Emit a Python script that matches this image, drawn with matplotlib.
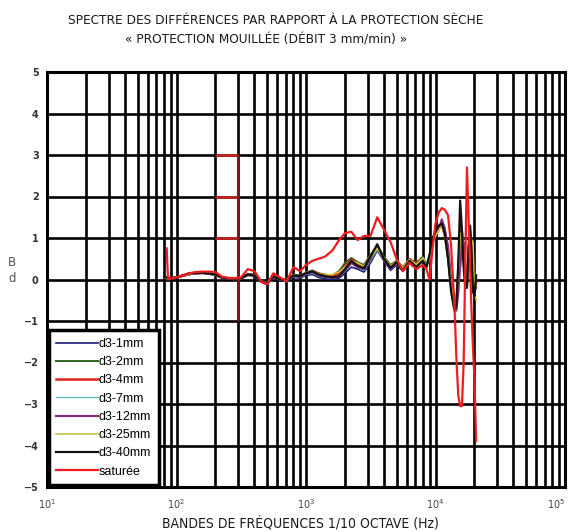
import matplotlib
matplotlib.use("Agg")
from matplotlib import pyplot as plt
from matplotlib.ticker import LogLocator, NullFormatter, FixedLocator

# Bandes de fréquences (Hz)
freqs = [84, 86, 90, 100, 112, 125, 140, 160, 180, 200, 224, 250, 280, 315, 355,
         400, 450, 500, 560, 630, 710, 800, 900, 1000, 1120, 1250, 1400, 1600,
         1800, 2000, 2240, 2500, 2800, 3150, 3550, 4000, 4500, 5000, 5600, 6300,
         7100, 8000, 8500, 9000, 9500, 10000, 10600, 11200, 11800, 12500, 13200,
         14000, 14500, 15000, 15500, 16000, 16500, 17000, 17500, 18000, 18500,
         19000, 19500, 20000, 20600]

# Différences (dB)
d3_1mm = [0.03, 0.02, 0.03, 0.04, 0.08, 0.12, 0.14, 0.15, 0.13, 0.10, 0.04, 0.02, 0.0, 0.02, 0.10,
          0.08, -0.06, -0.12, 0.05, -0.02, -0.04, 0.05, 0.03, 0.10, 0.12, 0.05, 0.02, 0.0,
          0.03, 0.15, 0.30, 0.25, 0.18, 0.40, 0.70, 0.45, 0.22, 0.35, 0.20, 0.50,
          0.35, 0.50, 0.35, 0.50, 0.90, 1.10, 1.25, 1.40, 1.25, 0.70, -0.10,
          -0.65, -0.70, -0.10, 0.90, 1.10, 0.60, 0.0, -0.10, 0.50, 1.10,
          0.70, 0.0, -0.30, -0.20]
d3_2mm = [0.04, 0.03, 0.04, 0.06, 0.10, 0.14, 0.16, 0.17, 0.15, 0.12, 0.06, 0.03, 0.02, 0.04, 0.13,
          0.12, -0.03, -0.08, 0.10, 0.02, 0.0, 0.12, 0.10, 0.17, 0.22, 0.15, 0.12, 0.10,
          0.20, 0.40, 0.52, 0.42, 0.35, 0.60, 0.80, 0.55, 0.35, 0.45, 0.30, 0.50,
          0.40, 0.55, 0.35, 0.55, 0.95, 1.10, 1.25, 1.30, 1.05, 0.50, -0.20,
          -0.70, -0.55, 0.30, 1.30, 1.20, 0.40, -0.10, -0.15, 0.70, 1.20,
          0.80, 0.10, -0.30, -0.10]
d3_4mm = [0.04, 0.03, 0.04, 0.05, 0.09, 0.13, 0.15, 0.16, 0.14, 0.11, 0.05, 0.03, 0.01, 0.03, 0.12,
          0.11, -0.04, -0.10, 0.08, 0.01, -0.01, 0.10, 0.07, 0.15, 0.20, 0.14, 0.10, 0.08,
          0.15, 0.32, 0.48, 0.38, 0.30, 0.55, 0.78, 0.50, 0.30, 0.40, 0.25, 0.48,
          0.38, 0.50, 0.32, 0.52, 0.92, 1.12, 1.28, 1.32, 1.10, 0.55, -0.15,
          -0.68, -0.60, 0.10, 1.10, 1.15, 0.50, -0.05, -0.10, 0.60, 1.15,
          0.75, 0.05, -0.25, -0.05]
d3_7mm = [0.03, 0.02, 0.03, 0.05, 0.09, 0.13, 0.15, 0.15, 0.13, 0.10, 0.05, 0.02, 0.01, 0.02, 0.11,
          0.09, -0.05, -0.11, 0.06, -0.01, -0.03, 0.07, 0.05, 0.12, 0.15, 0.08, 0.05, 0.03,
          0.06, 0.20, 0.38, 0.30, 0.22, 0.45, 0.72, 0.48, 0.25, 0.38, 0.22, 0.48,
          0.34, 0.48, 0.32, 0.50, 0.90, 1.08, 1.22, 1.35, 1.20, 0.65, -0.05,
          -0.60, -0.65, -0.05, 1.00, 1.05, 0.55, 0.0, -0.05, 0.55, 1.05,
          0.70, 0.05, -0.20, -0.15]
d3_12mm = [0.03, 0.02, 0.03, 0.05, 0.09, 0.13, 0.15, 0.16, 0.14, 0.11, 0.05, 0.03, 0.01, 0.03, 0.11,
           0.10, -0.05, -0.10, 0.07, 0.0, -0.02, 0.09, 0.06, 0.13, 0.18, 0.10, 0.06, 0.04,
           0.07, 0.22, 0.40, 0.30, 0.25, 0.50, 0.78, 0.48, 0.26, 0.40, 0.22, 0.46,
           0.32, 0.48, 0.30, 0.55, 0.95, 1.05, 1.20, 1.45, 1.20, 0.80, 0.0,
           -0.60, -0.75, -0.30, 0.30, 0.80, 0.90, 0.30, 0.0, 0.40, 1.00,
           0.50, -0.20, -0.10, 0.0]
d3_25mm = [0.03, 0.02, 0.03, 0.05, 0.09, 0.13, 0.16, 0.16, 0.14, 0.11, 0.05, 0.03, 0.02, 0.03, 0.12,
           0.11, -0.04, -0.09, 0.09, 0.01, -0.01, 0.11, 0.08, 0.16, 0.21, 0.14, 0.11, 0.12,
           0.18, 0.30, 0.45, 0.40, 0.32, 0.52, 0.75, 0.52, 0.32, 0.44, 0.28, 0.48,
           0.36, 0.52, 0.34, 0.52, 0.90, 1.05, 1.20, 1.28, 1.05, 0.55, -0.10,
           -0.65, -0.50, 0.20, 1.10, 1.15, 0.50, 0.0, -0.05, 0.60, 1.10,
           0.95, 0.90, -0.30, -0.50]
d3_40mm = [0.05, 0.02, 0.03, 0.05, 0.10, 0.15, 0.16, 0.16, 0.14, 0.12, 0.05, 0.03, 0.02, 0.03, 0.12,
           0.10, -0.05, -0.10, 0.08, 0.0, -0.02, 0.10, 0.08, 0.15, 0.20, 0.12, 0.08, 0.05,
           0.08, 0.25, 0.45, 0.33, 0.27, 0.55, 0.85, 0.50, 0.28, 0.42, 0.22, 0.45,
           0.30, 0.45, 0.30, 0.60, 1.00, 1.15, 1.30, 1.35, 1.10, 0.50, -0.30,
           -0.75, -0.60, 0.40, 1.90, 1.20, 0.30, -0.20, -0.20, 0.80, 1.30,
           0.60, -0.30, -0.40, 0.10]
saturee = [0.75, 0.0, 0.02, 0.05, 0.10, 0.15, 0.18, 0.19, 0.19, 0.18, 0.07, 0.04, 0.03, 0.05, 0.25,
           0.20, -0.05, -0.12, 0.15, 0.05, -0.05, 0.30, 0.20, 0.35, 0.45, 0.50, 0.55, 0.70,
           0.95, 1.12, 1.15, 0.95, 1.05, 1.05, 1.50, 1.20, 0.90, 0.50, 0.20, 0.40,
           0.25, 0.35, 0.25, 0.0, 0.75, 1.35, 1.62, 1.72, 1.68, 1.55, 0.80,
           -0.60, -1.90, -2.80, -3.05, -3.05, -2.00, 0.50, 2.70, 1.50, 0.30,
           -0.80, -1.70, -2.40, -3.90]

series = [
    ("d3-1mm", d3_1mm, "#1c1c7a", 1.2),
    ("d3-2mm", d3_2mm, "#2f6420", 1.4),
    ("d3-4mm", d3_4mm, "#e0201a", 1.8),
    ("d3-7mm", d3_7mm, "#58b8b8", 0.9),
    ("d3-12mm", d3_12mm, "#83307a", 1.6),
    ("d3-25mm", d3_25mm, "#c9c23c", 1.2),
    ("d3-40mm", d3_40mm, "#111111", 1.6),
    ("saturée", saturee, "#ee1c1c", 1.6),
]

y_ticks = [-5, -4, -3, -2, -1, 0, 1, 2, 3, 4, 5]
x_ticks = [1e1, 1e2, 1e3, 1e4, 1e5]
x_labels = ["$10^{1}$", "$10^{2}$", "$10^{3}$", "$10^{4}$", "$10^{5}$"]

fig = plt.figure(figsize=(5.68, 5.32), dpi=100)
ax = fig.add_axes([47 / 568, 1 - 487 / 532, 518 / 568, 415 / 532])

ax.set_xscale("log")
ax.set_xlim(10, 1e5)
ax.set_ylim(-5, 5)

# grille épaisse (majeure + mineure)
ax.xaxis.set_major_locator(FixedLocator(x_ticks))
ax.xaxis.set_minor_locator(LogLocator(base=10, subs=range(2, 10)))
ax.xaxis.set_minor_formatter(NullFormatter())
ax.set_yticks(y_ticks)
ax.grid(True, which="both", color="black", linewidth=1.9, zorder=1)
ax.set_axisbelow(True)

# morceaux de grille rouges (artefacts du document)
ax.hlines([1, 2, 3], 200, 300, color="#cc2222", linewidth=1.8, zorder=1.5)
ax.vlines(300, -1, 3, color="#7a1c1c", linewidth=1.8, zorder=1.5)

for nom, vals, couleur, lw in series:
    ax.plot(freqs, vals, color=couleur, linewidth=lw, label=nom, zorder=3)

for s in ax.spines.values():
    s.set_linewidth(2.2)

ax.set_xticklabels(x_labels)
ax.tick_params(axis="both", which="both", length=0)
ax.tick_params(axis="x", pad=7, labelsize=7, labelcolor="#444444")
ax.tick_params(axis="y", pad=6, labelsize=7, labelcolor="#333333")
for t in ax.get_yticklabels():
    t.set_fontweight("bold")
# le dernier libellé (10^5) est collé au bord droit
ax.get_xticklabels()[-1].set_horizontalalignment("right")

leg = ax.legend(loc="lower left", bbox_to_anchor=(0.0, 0.0), borderaxespad=0.15,
                fancybox=False, framealpha=1, edgecolor="black",
                prop={"family": ["Liberation Sans", "DejaVu Sans"], "size": 9,
                      "stretch": "condensed"},
                handlelength=3.3, handletextpad=0.1, labelspacing=0.5,
                borderpad=0.6)
leg.get_frame().set_linewidth(2.5)
leg.set_zorder(5)

titre = dict(family="DejaVu Sans", stretch="condensed", color="#1a1a1a")
fig.text(276 / 568, 1 - 20 / 532,
         "SPECTRE DES DIFFÉRENCES PAR RAPPORT À LA PROTECTION SÈCHE",
         ha="center", va="center", fontsize=9.7, **titre)
fig.text(266 / 568, 1 - 40 / 532,
         "« PROTECTION MOUILLÉE (DÉBIT 3 mm/min) »",
         ha="center", va="center", fontsize=9.7, **titre)
fig.text(300 / 568, 1 - 523 / 532,
         "BANDES DE FRÉQUENCES 1/10 OCTAVE (Hz)",
         ha="center", va="center", fontsize=10, **titre)
fig.text(12 / 568, 1 - 270 / 532, "B\nd", ha="center", va="center",
         fontsize=8.5, linespacing=1.3, color="#555555")

fig.savefig("out.png", dpi=100)
